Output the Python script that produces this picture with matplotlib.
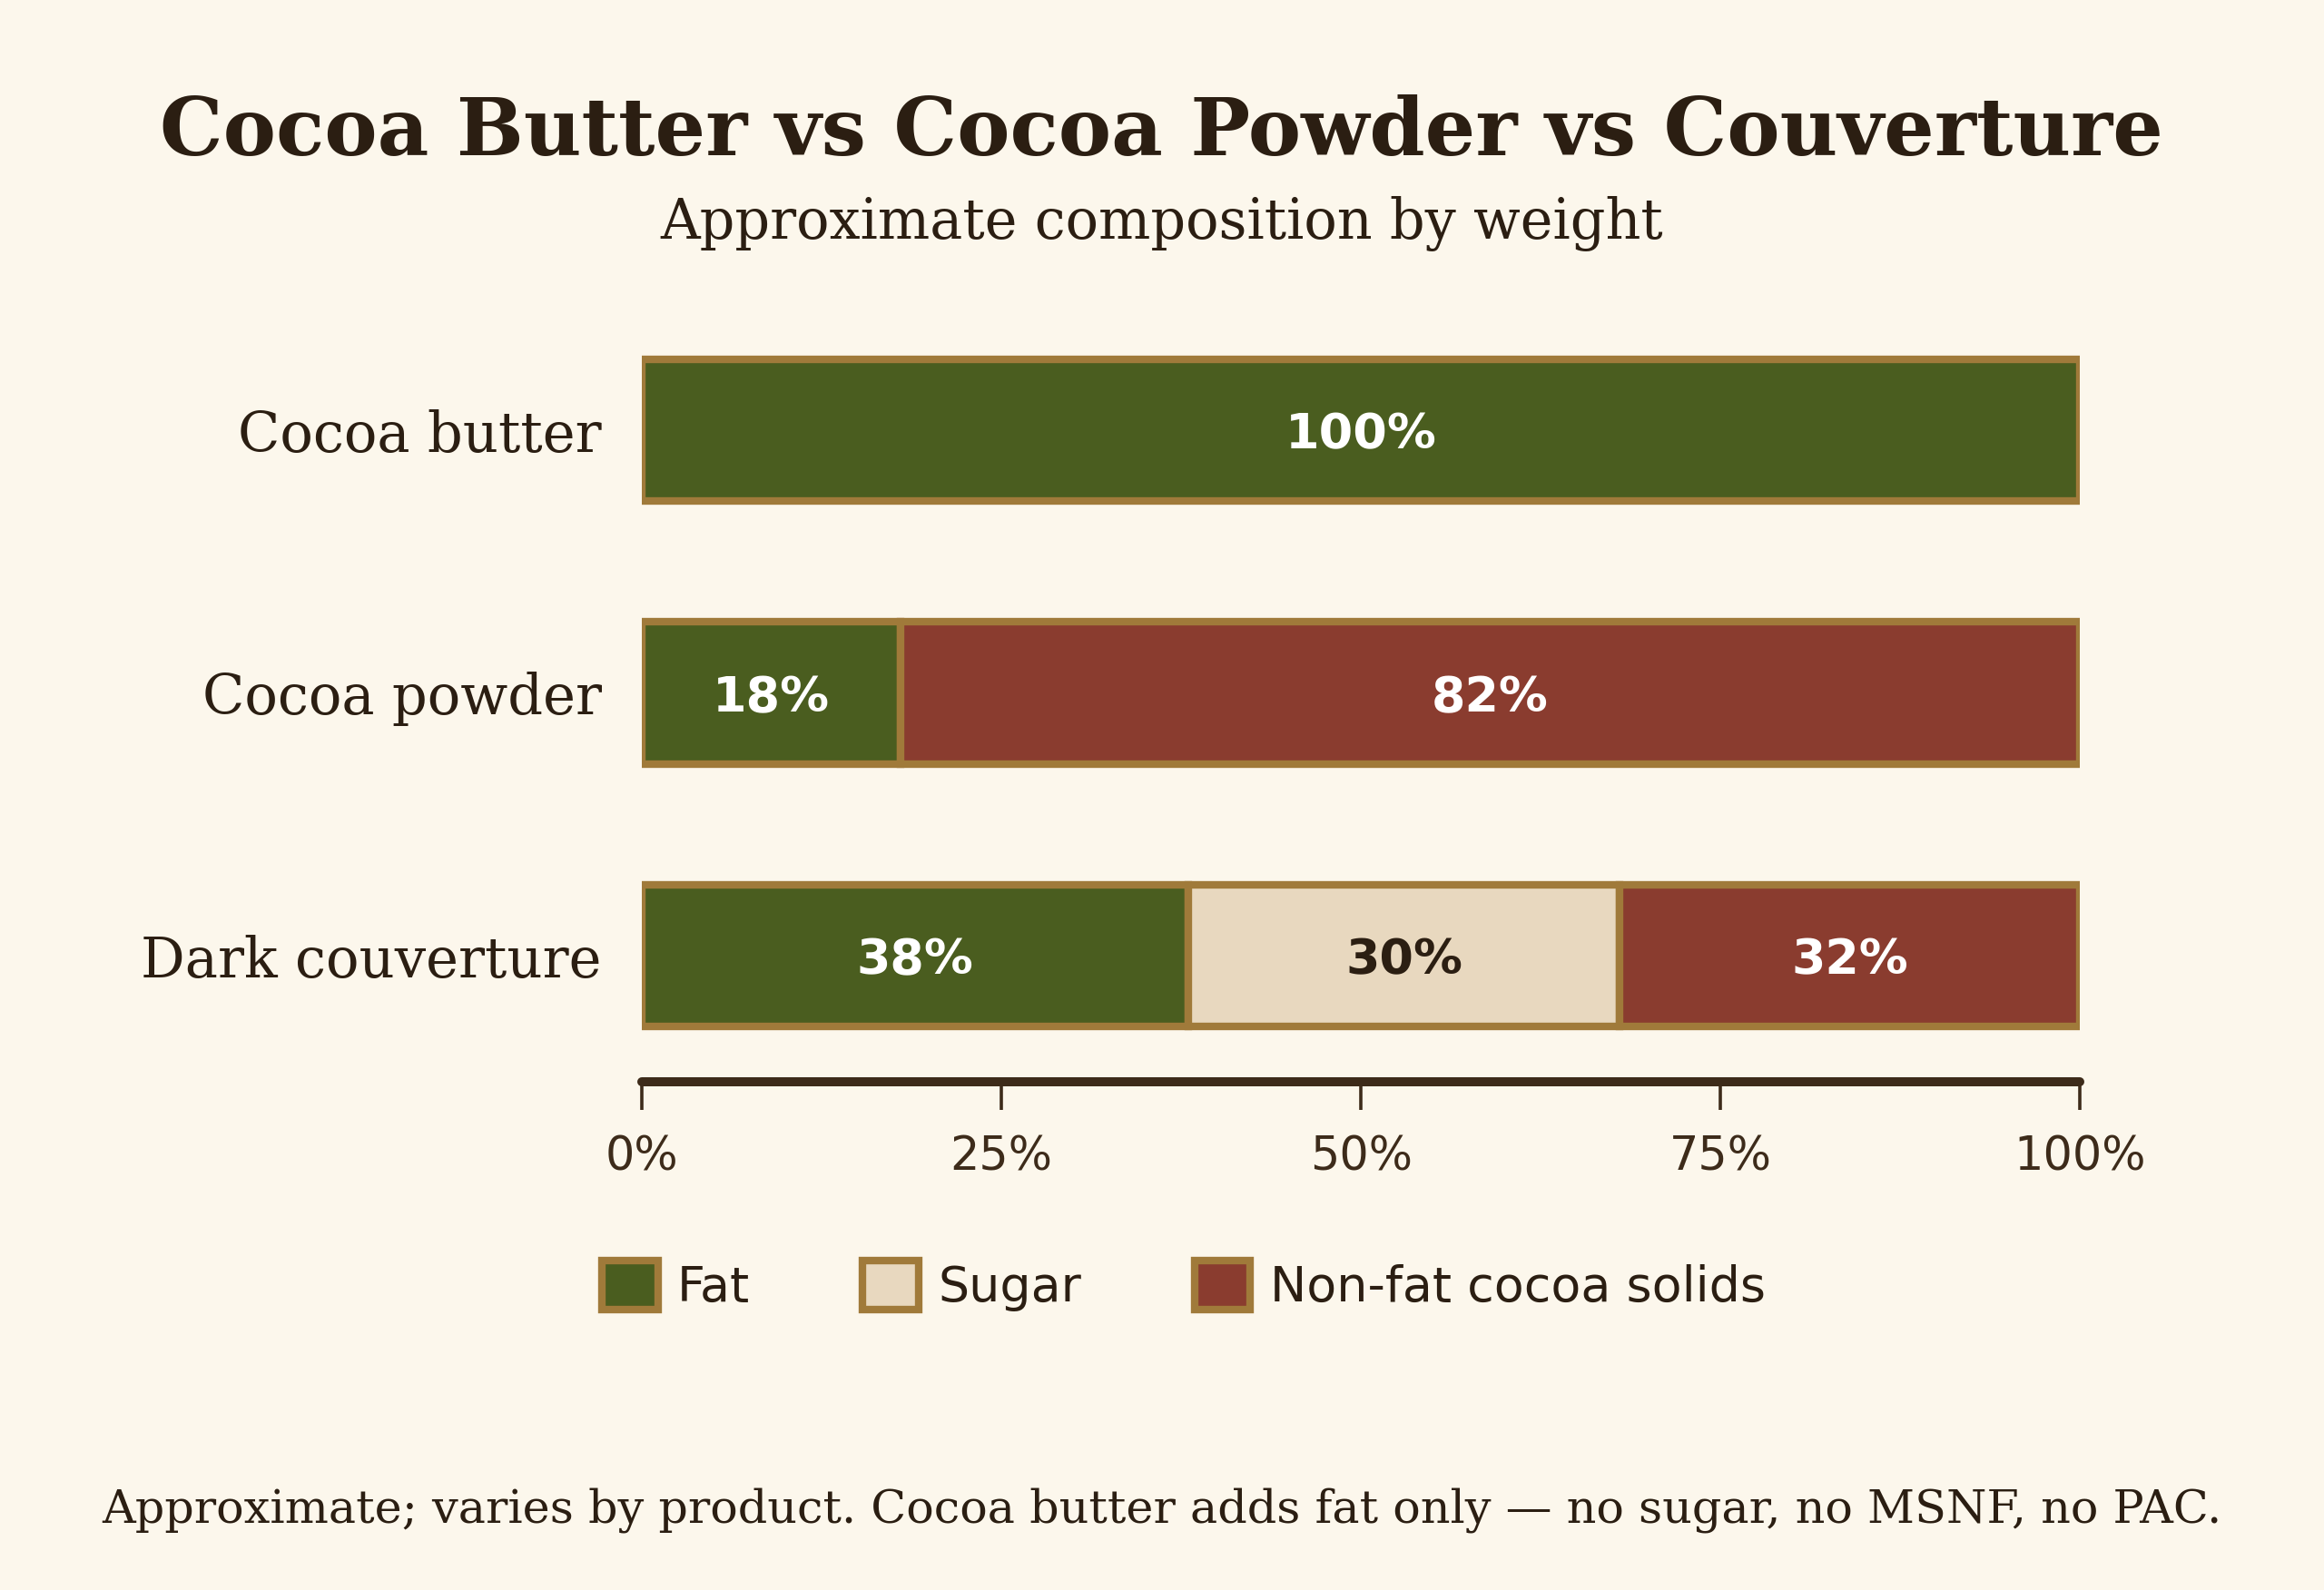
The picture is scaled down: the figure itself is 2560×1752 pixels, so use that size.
import matplotlib
matplotlib.use("Agg")
import matplotlib.pyplot as plt
from matplotlib.patches import Patch
import numpy as np

categories = ["Cocoa butter", "Cocoa powder", "Dark couverture"]
fat = [100, 18, 38]
sugar = [0, 0, 30]
nonfat = [0, 82, 32]
series_names = ["Fat", "Sugar", "Non-fat cocoa solids"]
xticks = [0, 25, 50, 75, 100]
xtick_labels = ["0%", "25%", "50%", "75%", "100%"]

BG = "#FCF7EC"
C_FAT = "#4A5D1F"
C_SUG = "#E8D8BF"
C_NON = "#8A3C2F"
EDGE = "#A07A3A"
TXT = "#2B1E12"
AX = "#3D2B1A"

fig = plt.figure(figsize=(12.8, 8.76), dpi=200, facecolor=BG)
ax = fig.add_axes([0.2763, 0.3196, 0.8949 - 0.2763, 0.812 - 0.3196])
ax.set_facecolor(BG)

y = np.arange(len(categories))
h = 0.54
series = [fat, sugar, nonfat]
colors = [C_FAT, C_SUG, C_NON]
txtcolors = ["white", TXT, "white"]
left = np.zeros(len(categories))
for vals, col, tc in zip(series, colors, txtcolors):
    vals = np.array(vals, dtype=float)
    for i in range(len(categories)):
        if vals[i] > 0:
            ax.barh(y[i], vals[i], left=left[i], height=h, color=col,
                    edgecolor=EDGE, linewidth=3, zorder=2)
            ax.text(left[i] + vals[i] / 2, y[i], f"{int(vals[i])}%", ha="center",
                    va="center_baseline", fontsize=19.4, fontweight="bold", color=tc,
                    family="DejaVu Sans", zorder=3)
    left += vals

ax.set_xlim(0, 100)
ax.set_ylim(2.48, -0.5)
ax.set_yticks(y)
ax.set_yticklabels(categories, family="DejaVu Serif", fontsize=21.9, color=TXT)
ax.tick_params(axis="y", length=0, pad=16)
ax.set_xticks(xticks)
ax.set_xticklabels(xtick_labels, family="DejaVu Sans", fontsize=18.3, color=AX)
ax.tick_params(axis="x", length=11, width=1.3, color=AX, pad=10, direction="out")
for s in ["top", "right", "left"]:
    ax.spines[s].set_visible(False)
ax.spines["bottom"].set_color(AX)
ax.spines["bottom"].set_linewidth(3.6)
ax.spines["bottom"].set_capstyle("round")
for t in ax.xaxis.get_ticklines():
    t.set_solid_capstyle("round")

fig.text(0.4997, 0.9024, "Cocoa Butter vs Cocoa Powder vs Couverture", ha="center",
         va="baseline", family="DejaVu Serif", fontsize=31.5, fontweight="bold", color=TXT)
fig.text(0.5, 0.850, "Approximate composition by weight", ha="center", va="baseline",
         family="DejaVu Serif", fontsize=21.8, color=TXT)
fig.text(0.5, 0.0428, "Approximate; varies by product. Cocoa butter adds fat only \u2014 no sugar, no MSNF, no PAC.",
         ha="center", va="baseline", family="DejaVu Serif", fontsize=18.3, color=TXT)

handles = [Patch(facecolor=c, edgecolor=EDGE, linewidth=3, label=n)
           for c, n in zip(colors, series_names)]
leg = fig.legend(handles=handles, loc="center", bbox_to_anchor=(0.5093, 0.1912), ncol=3,
                 frameon=False, handlelength=1.15, handleheight=1.15, handletextpad=0.4,
                 columnspacing=2.3, prop={"family": "DejaVu Sans", "size": 19.4})
for t in leg.get_texts():
    t.set_color(TXT)

fig.savefig("out.png", dpi=200, facecolor=BG)
